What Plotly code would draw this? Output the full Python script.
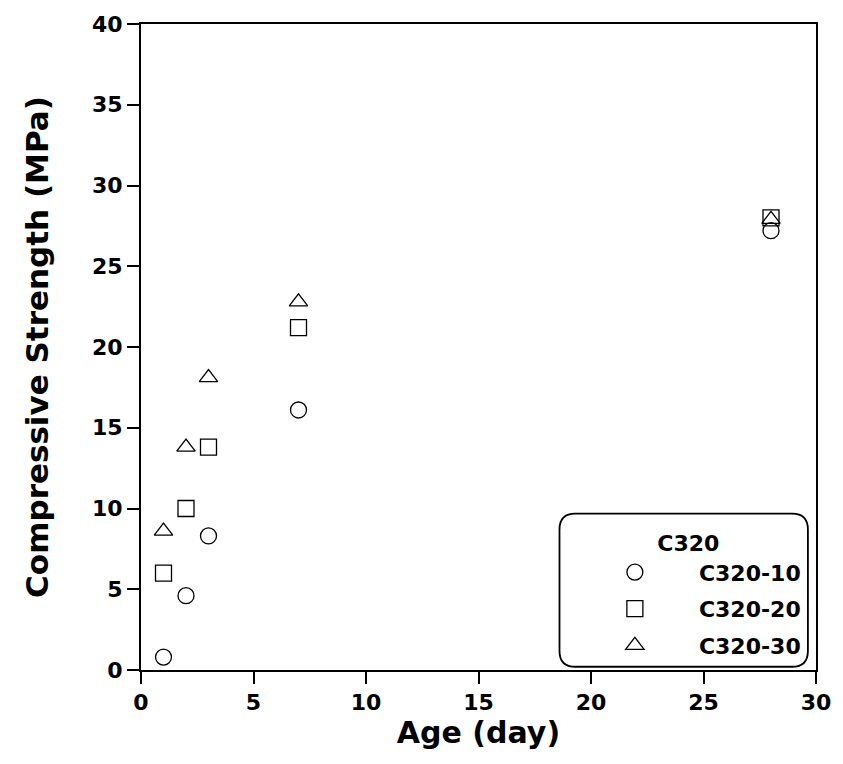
import plotly.graph_objects as go

# Curing age (days) and compressive strength (MPa) for each C320 mix
age_days = [1, 2, 3, 7, 28]
c320_10 = [0.8, 4.6, 8.3, 16.1, 27.2]
c320_20 = [6.0, 10.0, 13.8, 21.2, 28.0]
c320_30 = [8.6, 13.8, 18.1, 22.8, 27.9]

series_names = ["C320-10", "C320-20", "C320-30"]
series_symbols = ["circle-open", "square-open", "triangle-up-open"]
series_values = [c320_10, c320_20, c320_30]

x_ticks = [0, 5, 10, 15, 20, 25, 30]
y_ticks = [0, 5, 10, 15, 20, 25, 30, 35, 40]

font_family = "DejaVu Sans, sans-serif"
tick_font = dict(family=font_family, size=22, color="black", weight="bold")
xtitle_font = dict(family=font_family, size=30, color="black", weight="bold")
ytitle_font = dict(family=font_family, size=31, color="black", weight="bold")

fig = go.Figure()
for name, sym, vals in zip(series_names, series_symbols, series_values):
    fig.add_trace(go.Scatter(
        x=age_days, y=vals, mode="markers", name=name, legendgroup=name,
        marker=dict(symbol=sym, size=16, color="black", line=dict(width=1.3, color="black")),
    ))

axis_common = dict(
    showline=True, linecolor="black", linewidth=2, mirror=True,
    ticks="outside", ticklen=12, tickwidth=2, tickcolor="black",
    showgrid=False, zeroline=False, tickfont=tick_font,
)

fig.update_xaxes(range=[0, 30], tickvals=x_ticks, title_text="Age (day)",
                 title_font=xtitle_font, title_standoff=2, **axis_common)
fig.update_yaxes(range=[0, 40], tickvals=y_ticks, title_text="Compressive Strength (MPa)",
                 title_font=ytitle_font, title_standoff=34, **axis_common)

# Rounded frame around the legend
plot_w, plot_h = 684, 654
x0, x1, y0, y1 = 0.620, 0.988, 0.005, 0.242
rx = 16 / plot_w
ry = 16 / plot_h
legend_path = (
    f"M {x0 + rx},{y0} L {x1 - rx},{y0} Q {x1},{y0} {x1},{y0 + ry} "
    f"L {x1},{y1 - ry} Q {x1},{y1} {x1 - rx},{y1} "
    f"L {x0 + rx},{y1} Q {x0},{y1} {x0},{y1 - ry} "
    f"L {x0},{y0 + ry} Q {x0},{y0} {x0 + rx},{y0} Z"
)
fig.add_shape(type="path", path=legend_path, xref="paper", yref="paper",
              line=dict(color="black", width=1.8), fillcolor="white", layer="below")

fig.update_layout(
    width=843, height=764,
    margin=dict(l=141, r=18, t=16, b=94),
    plot_bgcolor="white", paper_bgcolor="white",
    showlegend=True,
    legend=dict(
        x=0.985, y=0.228, xanchor="right", yanchor="top",
        bgcolor="rgba(0,0,0,0)", borderwidth=0,
        title=dict(text="C320", font=tick_font, side="top center"),
        font=tick_font,
        itemwidth=118, traceorder="grouped", tracegroupgap=5,
    ),
)

fig.write_html("out.html")
